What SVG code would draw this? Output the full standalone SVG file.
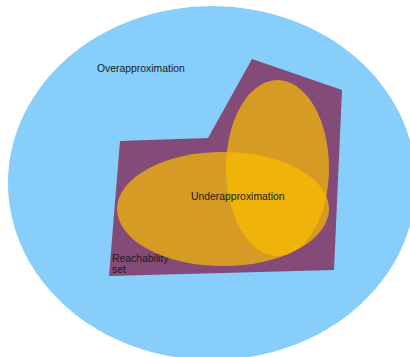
<svg xmlns="http://www.w3.org/2000/svg" width="410" height="357" viewBox="0 0 410 357">
  <style>
    .label { font-family: "Liberation Sans", Arial, Helvetica, sans-serif; font-size: 10.4px; fill: #1c1c1c; }
    .under { fill: #FABE00; fill-opacity: 0.7; }
  </style>
  <rect width="410" height="357" fill="#ffffff"/>
  <g id="overapproximation">
    <ellipse cx="212" cy="183" rx="204" ry="177" fill="#87CEFA"/>
    <text class="label" x="97" y="72">Overapproximation</text>
  </g>
  <g id="reachability-set">
    <polygon points="120,141 208,138 252,59 342,90 334,270 109,276" fill="#844A78"/>
    <text class="label" x="112" y="262">Reachability</text>
    <text class="label" x="112" y="273">set</text>
  </g>
  <g id="underapproximation">
    <ellipse class="under" cx="277.5" cy="168" rx="51.5" ry="88"/>
    <ellipse class="under" cx="223" cy="209" rx="106" ry="57"/>
    <text class="label" x="191" y="200">Underapproximation</text>
  </g>
</svg>
